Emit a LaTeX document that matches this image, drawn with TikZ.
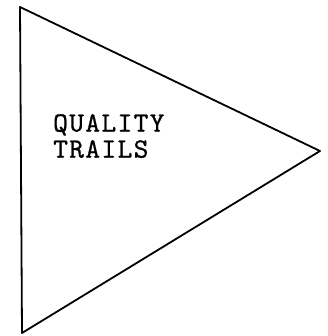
\documentclass[tikz,border=0pt]{standalone}
\usepackage{fontspec}
\usepackage{tikz}
\usetikzlibrary{positioning}
\newfontfamily\typefont{lmmono10-regular.otf}[LetterSpace=5,FakeBold=0.8]

\begin{document}
\begin{tikzpicture}[x=1pt,y=-1pt, edge/.style={draw,line width=1.8pt,line join=round},
  tag/.style={font=\typefont\fontsize{28}{26}\selectfont,align=left,inner sep=0pt}]
  \useasboundingbox (0,0) rectangle (327,336);
  \coordinate (top) at (20,7);
  \coordinate (tip) at (320,151);
  \coordinate (bottom) at (22,333);
  \draw[edge] (top) -- (tip) -- (bottom) -- cycle;
  \node[tag, anchor=north west] (name) at (53,114) {QUALITY\\TRAILS};
\end{tikzpicture}
\end{document}
